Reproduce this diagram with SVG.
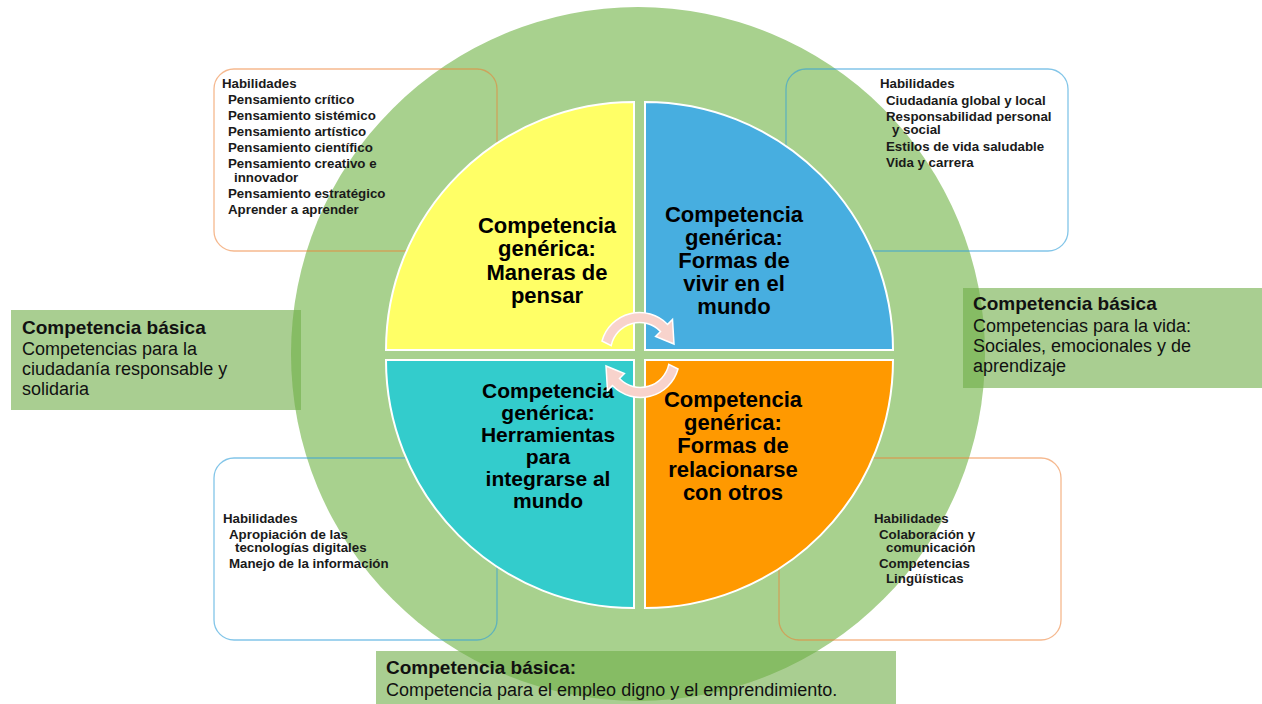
<svg xmlns="http://www.w3.org/2000/svg" width="1262" height="704" viewBox="0 0 1262 704">
<style>
.box{fill:none;stroke-width:1.3}
.bo{stroke:#ED7D31;stroke-opacity:0.55}
.bb{stroke:#2E9ED8;stroke-opacity:0.6}
.ht{font-family:"Liberation Sans",Arial,sans-serif;font-weight:bold;font-size:13.3px;fill:#1a1a1a}
.q{stroke:#fff;stroke-width:2}
.qt{font-family:"Liberation Sans",Arial,sans-serif;font-weight:bold;font-size:22px;fill:#000;text-anchor:middle}
.qs{font-size:21px}
.lbl{fill:#70AD47;fill-opacity:0.6}
.lb{font-family:"Liberation Sans",Arial,sans-serif;font-weight:bold;font-size:19px;fill:#111}
.lr{font-family:"Liberation Sans",Arial,sans-serif;font-size:18px;fill:#111}
.arr{fill:#F8D3CC;stroke:#fff;stroke-width:1.5}
</style>
<rect width="1262" height="704" fill="#fff"/>
<circle id="outer-circle" cx="638" cy="354" r="347" fill="#A8D18E"/>

<g id="box-tl">
<rect class="box bo" x="214" y="69" width="283" height="182" rx="20"/>
<text class="ht"><tspan x="222" y="88">Habilidades</tspan><tspan x="228" y="104">Pensamiento crítico</tspan><tspan x="228" y="120">Pensamiento sistémico</tspan><tspan x="228" y="136">Pensamiento artístico</tspan><tspan x="228" y="152">Pensamiento científico</tspan><tspan x="228" y="168">Pensamiento creativo e</tspan><tspan x="234" y="182">innovador</tspan><tspan x="228" y="198">Pensamiento estratégico</tspan><tspan x="228" y="214">Aprender a aprender</tspan></text>
</g>
<g id="box-tr">
<rect class="box bb" x="786" y="69" width="282" height="182" rx="20"/>
<text class="ht"><tspan x="880" y="88">Habilidades</tspan><tspan x="886" y="105">Ciudadanía global y local</tspan><tspan x="886" y="121">Responsabilidad personal</tspan><tspan x="892" y="134">y social</tspan><tspan x="886" y="151">Estilos de vida saludable</tspan><tspan x="886" y="167">Vida y carrera</tspan></text>
</g>
<g id="box-bl">
<rect class="box bb" x="214" y="458" width="283" height="182" rx="20"/>
<text class="ht"><tspan x="223" y="523">Habilidades</tspan><tspan x="229" y="539">Apropiación de las</tspan><tspan x="235" y="552">tecnologías digitales</tspan><tspan x="229" y="568">Manejo de la información</tspan></text>
</g>
<g id="box-br">
<rect class="box bo" x="779" y="458" width="282" height="182" rx="20"/>
<text class="ht"><tspan x="874" y="523">Habilidades</tspan><tspan x="879" y="539">Colaboración y</tspan><tspan x="886" y="552">comunicación</tspan><tspan x="879" y="568">Competencias</tspan><tspan x="886" y="583">Lingüísticas</tspan></text>
</g>

<g id="q-maneras">
<path class="q" d="M634 350 L386 350 A248 248 0 0 1 634 102 Z" fill="#FFFF66"/>
<text class="qt"><tspan x="547" y="233">Competencia</tspan><tspan x="547" y="256">genérica:</tspan><tspan x="547" y="280">Maneras de</tspan><tspan x="547" y="303">pensar</tspan></text>
</g>
<g id="q-vivir">
<path class="q" d="M645 350 L645 102 A248 248 0 0 1 893 350 Z" fill="#47AEE0"/>
<text class="qt"><tspan x="734" y="222">Competencia</tspan><tspan x="734" y="245">genérica:</tspan><tspan x="734" y="268">Formas de</tspan><tspan x="734" y="291">vivir en el</tspan><tspan x="734" y="314">mundo</tspan></text>
</g>
<g id="q-herramientas">
<path class="q" d="M634 360 L634 608 A248 248 0 0 1 386 360 Z" fill="#33CCCC"/>
<text class="qt qs"><tspan x="548" y="398">Competencia</tspan><tspan x="548" y="420">genérica:</tspan><tspan x="548" y="442">Herramientas</tspan><tspan x="548" y="464">para</tspan><tspan x="548" y="486">integrarse al</tspan><tspan x="548" y="508">mundo</tspan></text>
</g>
<g id="q-relacionarse">
<path class="q" d="M645 360 L893 360 A248 248 0 0 1 645 608 Z" fill="#FF9900"/>
<text class="qt"><tspan x="733" y="407">Competencia</tspan><tspan x="733" y="430">genérica:</tspan><tspan x="733" y="453">Formas de</tspan><tspan x="733" y="477">relacionarse</tspan><tspan x="733" y="500">con otros</tspan></text>
</g>

<g id="connectors">
<path class="arr" d="M602 341 A39 39 0 0 1 667.6 324.4 L672.5 319.5 L674 344 L655.6 336.4 L660.5 331.5 A29 29 0 0 0 611.2 345.6 Z"/>
<path class="arr" transform="rotate(180 640 355)" d="M602 341 A39 39 0 0 1 667.6 324.4 L672.5 319.5 L674 344 L655.6 336.4 L660.5 331.5 A29 29 0 0 0 611.2 345.6 Z"/>
</g>

<g id="label-left">
<rect class="lbl" x="11" y="310" width="290" height="100"/>
<text class="lb" x="22" y="334">Competencia básica</text>
<text class="lr"><tspan x="22" y="355">Competencias para la</tspan><tspan x="22" y="375">ciudadanía responsable y</tspan><tspan x="22" y="395">solidaria</tspan></text>
</g>
<g id="label-right">
<rect class="lbl" x="963" y="288" width="299" height="100"/>
<text class="lb" x="973" y="310">Competencia básica</text>
<text class="lr"><tspan x="973" y="332">Competencias para la vida:</tspan><tspan x="973" y="352">Sociales, emocionales y de</tspan><tspan x="973" y="372">aprendizaje</tspan></text>
</g>
<g id="label-bottom">
<rect class="lbl" x="376" y="651" width="520" height="53"/>
<text class="lb" x="386" y="674">Competencia básica:</text>
<text class="lr" x="386" y="696">Competencia para el empleo digno y el emprendimiento.</text>
</g>
</svg>
